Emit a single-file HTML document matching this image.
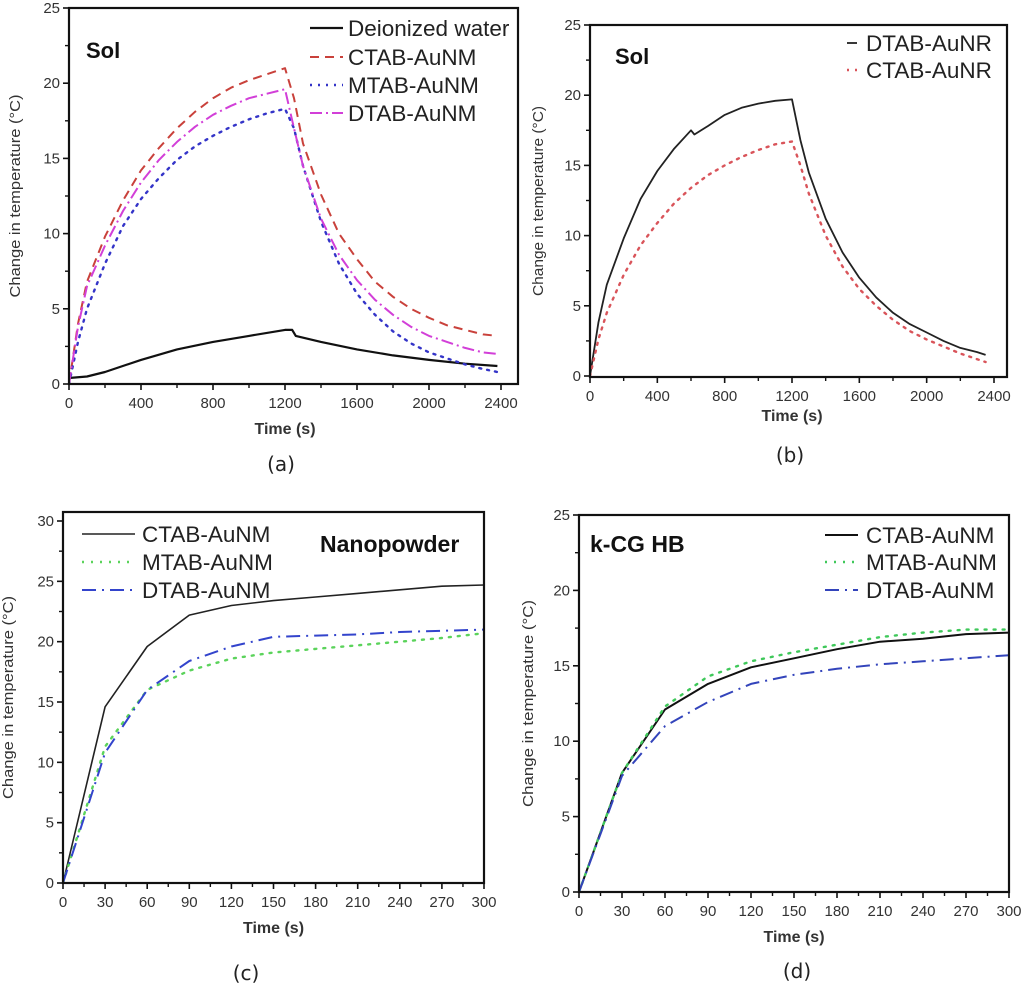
<!DOCTYPE html>
<html><head><meta charset="utf-8"><style>
html,body{margin:0;padding:0;background:#fff;}
svg{display:block;font-family:"Liberation Sans",Arial,sans-serif;}
</style></head><body>
<svg id="fig" width="1024" height="990" viewBox="0 0 1024 990" xmlns="http://www.w3.org/2000/svg"></svg>
<script>
// ---------- Data ----------
const tA = [0,50,100,200,300,400,500,600,700,800,900,1000,1100,1200,1250,1300,1400,1500,1600,1700,1800,1900,2000,2100,2200,2300,2380];
const aCTAB = [0,4,6.8,9.8,12.2,14.2,15.7,17,18.1,19,19.7,20.2,20.6,21,19,16,12.6,10,8.3,6.8,5.8,5,4.4,3.9,3.6,3.3,3.2];
const aDTAB = [0,3.8,6.5,9.2,11.5,13.4,14.9,16.1,17.1,17.9,18.5,19,19.3,19.6,17,14.5,11,8.6,6.9,5.6,4.6,3.8,3.2,2.8,2.4,2.1,2.0];
const aMTAB = [0,2.8,5,8,10.5,12.3,13.7,14.9,15.8,16.5,17.1,17.6,18,18.3,17,14.5,10.8,8,6,4.6,3.5,2.7,2.1,1.7,1.3,1.0,0.8];
const tWater = [0,100,200,400,600,800,1000,1200,1240,1260,1400,1600,1800,2000,2200,2380];
const aWater = [0.4,0.5,0.8,1.6,2.3,2.8,3.2,3.6,3.6,3.2,2.8,2.3,1.9,1.6,1.35,1.2];
const tB = [0,50,100,200,300,400,500,600,620,700,800,900,1000,1100,1200,1250,1300,1400,1500,1600,1700,1800,1900,2000,2100,2200,2300,2350];
const bDTAB = [0,3.8,6.5,9.8,12.6,14.6,16.2,17.5,17.2,17.8,18.6,19.1,19.4,19.6,19.7,16.8,14.5,11.2,8.8,7.0,5.6,4.5,3.7,3.1,2.5,2.0,1.7,1.5];
const tB2 = [0,50,100,200,300,400,500,600,700,800,900,1000,1100,1200,1250,1300,1400,1500,1600,1700,1800,1900,2000,2100,2200,2300,2350];
const bCTAB = [0,2.6,4.5,7.2,9.3,10.9,12.3,13.4,14.3,15,15.6,16.1,16.5,16.7,15,13,10,7.8,6.2,5,4,3.2,2.6,2.1,1.6,1.2,1.0];
const tCD = [0,30,60,90,120,150,180,210,240,270,300];
const cCTAB = [0,14.6,19.6,22.2,23,23.4,23.7,24,24.3,24.6,24.7];
const cMTAB = [0,11.3,16,17.6,18.6,19.1,19.4,19.7,20,20.3,20.7];
const cDTAB = [0,10.8,16,18.4,19.6,20.4,20.5,20.6,20.8,20.9,21];
const dCTAB = [0,7.9,12.1,13.8,14.9,15.5,16.1,16.6,16.8,17.1,17.2];
const dMTAB = [0,7.9,12.3,14.3,15.3,15.9,16.4,16.9,17.2,17.4,17.4];
const dDTAB = [0,7.7,11,12.6,13.8,14.4,14.8,15.1,15.3,15.5,15.7];
const xTicksLong = [0,400,800,1200,1600,2000,2400];
const xTicksShort = [0,30,60,90,120,150,180,210,240,270,300];
const yTicks25 = [0,5,10,15,20,25];
const yTicks30 = [0,5,10,15,20,25,30];

const NS = "http://www.w3.org/2000/svg";
const svg = document.getElementById('fig');
function mk(tag, attrs, parent){
  const e = document.createElementNS(NS, tag);
  for (const k in attrs) e.setAttribute(k, attrs[k]);
  (parent||svg).appendChild(e);
  return e;
}
function txt(s, attrs, parent){ const e = mk('text', attrs, parent); e.textContent = s; return e; }

function panel(p){
  const g = mk('g', {});
  
  
  const sx = v => p.x0 + (v - p.xmin)/(p.xmax - p.xmin)*(p.x1 - p.x0);
  const sy = v => p.y0 - (v - p.ymin)/(p.ymax - p.ymin)*(p.y0 - p.y1);
  p.series.forEach(s => {
    const d = s.t.map((t,i)=> (i?'L':'M') + sx(t).toFixed(1) + ' ' + sy(s.v[i]).toFixed(1)).join(' ');
    const path = mk('path', {d:d, fill:'none', stroke:s.color, 'stroke-width':s.w||2, 'stroke-dasharray':s.dash||'none', 'stroke-linecap':s.cap||'butt','stroke-linejoin':'round'}, g);
    
    
  });
  const fr = mk('rect', {x:p.bx0, y:p.by0, width:p.bx1-p.bx0, height:p.by1-p.by0, fill:'none', stroke:'#111', 'stroke-width':2.2}, g);
  
  
  const yg = mk('g', {}, g);
  
  
  p.yticks.forEach((v,i) => {
    const y = sy(v);
    mk('line', {x1:p.bx0-6, x2:p.bx0, y1:y, y2:y, stroke:'#111', 'stroke-width':1.6}, yg);
    if (i < p.yticks.length-1) { const ym = sy(v + (p.yticks[1]-p.yticks[0])/2); mk('line', {x1:p.bx0-4, x2:p.bx0, y1:ym, y2:ym, stroke:'#111','stroke-width':1.4}, yg); }
    const t = txt(String(v), {x:p.bx0-9, y:y+5, 'text-anchor':'end', 'font-size':15, fill:'#333'}, yg);
    
    
  });
  const xg = mk('g', {}, g);
  
  
  p.xticks.forEach((v,i) => {
    const x = sx(v);
    mk('line', {x1:x, x2:x, y1:p.by1, y2:p.by1+6, stroke:'#111', 'stroke-width':1.6}, xg);
    if (i < p.xticks.length-1) { const xm = sx(v + (p.xticks[1]-p.xticks[0])/2); mk('line', {x1:xm, x2:xm, y1:p.by1, y2:p.by1+4, stroke:'#111','stroke-width':1.4}, xg); }
    const t = txt(String(v), {x:x, y:p.by1+24, 'text-anchor':'middle', 'font-size':15, fill:'#333'}, xg);
    
    
  });
  const xt = txt('Time (s)', {x:(p.x0+p.x1)/2, y:p.by1+p.xtOff, 'text-anchor':'middle', 'font-size':16, fill:'#333', 'font-weight':'bold'}, g);
  
  
  const cy = (p.by0+p.by1)/2;
  const yt = txt('Change in temperature (°C)', {x:p.ytx, y:cy, 'text-anchor':'middle', 'font-size':15, textLength:p.ytLen, lengthAdjust:'spacingAndGlyphs', fill:'#333', transform:`rotate(-90 ${p.ytx} ${cy})`}, g);
  
  
  const an = txt(p.note, {x:p.noteX, y:p.noteY, 'font-size':p.noteSize||22, 'font-weight':'bold', fill:'#111'}, g);
  
  
  const lg = mk('g', {}, g);
  
  
  p.series.forEach((s,i) => {
    const y = p.legY[i];
    const eg = mk('g', {}, lg);
    
    
    mk('line', {x1:p.legX0, x2:p.legX1, y1:y, y2:y, stroke:s.color, 'stroke-width':s.w||2, 'stroke-dasharray':s.dash||'none'}, eg);
    txt(s.label, {x:p.legTX, y:y+8, 'font-size':p.legSize||22.5, fill:'#222'}, eg);
  });
  const pl = txt(p.tag, {x:p.tagX, y:p.tagY, 'text-anchor':'middle', 'font-size':20, fill:'#222', 'font-family':'"DejaVu Sans","Liberation Sans",sans-serif'}, g);
  
  
}

panel({name:'panel-a', xmin:0,xmax:2400,ymin:0,ymax:25, x0:69,x1:501,y0:384,y1:8, bx0:69,bx1:518,by0:8,by1:384,
  xticks:xTicksLong, yticks:yTicks25, xtOff:50, ytx:20, ytLen:203, note:'Sol', noteX:86, noteY:58,
  legX0:310, legX1:343, legTX:348, legY:[28,57,85,113],
  tag:'(a)', tagX:281, tagY:471,
  series:[
    {id:'deionized-water', label:'Deionized water', t:tWater, v:aWater, color:'#111', w:2.2},
    {id:'ctab-aunm', label:'CTAB-AuNM', t:tA, v:aCTAB, color:'#c9413b', dash:'9,6'},
    {id:'mtab-aunm', label:'MTAB-AuNM', t:tA, v:aMTAB, color:'#3434c8', dash:'2,6', cap:'round', w:2.4},
    {id:'dtab-aunm', label:'DTAB-AuNM', t:tA, v:aDTAB, color:'#d23fd8', dash:'12,4,2,4'}
  ]});

panel({name:'panel-b', xmin:0,xmax:2400,ymin:0,ymax:25, x0:590,x1:994,y0:376,y1:25, bx0:590,bx1:1007,by0:25,by1:377,
  xticks:xTicksLong, yticks:yTicks25, xtOff:44, ytx:543, ytLen:190, note:'Sol', noteX:615, noteY:64,
  legX0:847, legX1:857, legTX:866, legY:[43,70],
  tag:'(b)', tagX:790, tagY:462,
  series:[
    {id:'dtab-aunr', label:'DTAB-AuNR', t:tB, v:bDTAB, color:'#222', w:1.8},
    {id:'ctab-aunr', label:'CTAB-AuNR', t:tB2, v:bCTAB, color:'#d9545a', dash:'2,6', cap:'round', w:2.4}
  ]});

panel({name:'panel-c', xmin:0,xmax:300,ymin:0,ymax:30, x0:63,x1:484,y0:883,y1:521, bx0:63,bx1:484,by0:512,by1:883,
  xticks:xTicksShort, yticks:yTicks30, xtOff:50, ytx:13, ytLen:203, note:'Nanopowder', noteX:320, noteY:552, noteSize:23,
  legX0:82, legX1:135, legTX:142, legY:[534,562,590],
  tag:'(c)', tagX:246, tagY:980,
  series:[
    {id:'ctab-aunm', label:'CTAB-AuNM', t:tCD, v:cCTAB, color:'#222', w:1.6},
    {id:'mtab-aunm', label:'MTAB-AuNM', t:tCD, v:cMTAB, color:'#5bd35b', dash:'2,7', cap:'round', w:2.4},
    {id:'dtab-aunm', label:'DTAB-AuNM', t:tCD, v:cDTAB, color:'#3344cc', dash:'14,6,2,6'}
  ]});

panel({name:'panel-d', xmin:0,xmax:300,ymin:0,ymax:25, x0:579,x1:1009,y0:892,y1:515, bx0:579,bx1:1009,by0:515,by1:892,
  xticks:xTicksShort, yticks:yTicks25, xtOff:50, ytx:533, ytLen:207, note:'k-CG HB', noteX:590, noteY:552, noteSize:23,
  legX0:825, legX1:858, legTX:866, legY:[535,562,590],
  tag:'(d)', tagX:797, tagY:978,
  series:[
    {id:'ctab-aunm', label:'CTAB-AuNM', t:tCD, v:dCTAB, color:'#111', w:2},
    {id:'mtab-aunm', label:'MTAB-AuNM', t:tCD, v:dMTAB, color:'#3fc85a', dash:'2,7', cap:'round', w:2.4},
    {id:'dtab-aunm', label:'DTAB-AuNM', t:tCD, v:dDTAB, color:'#3344bb', dash:'14,6,2,6'}
  ]});
</script>
</body></html>
